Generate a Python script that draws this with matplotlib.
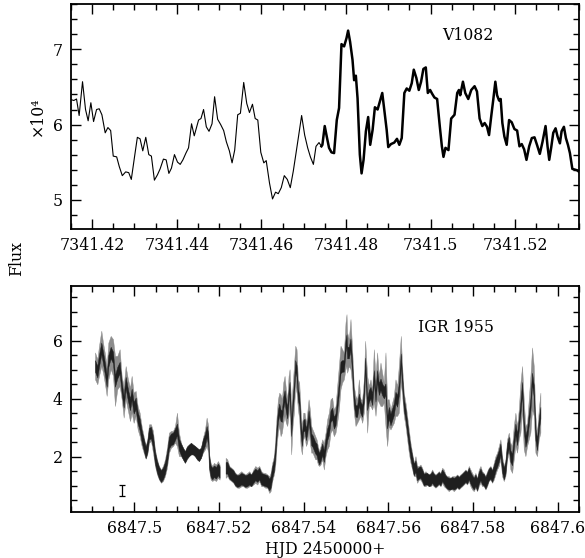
import numpy as np
import matplotlib
matplotlib.use("Agg")
import matplotlib.pyplot as plt
from matplotlib.ticker import MultipleLocator, FuncFormatter

plt.rcParams['font.family'] = ['DejaVu Serif']
plt.rcParams['font.size'] = 11.3

# --- V1082: light curve (flux in units of 1e4), thin part then thick part ---
v_t_thin = [7341.41511, 7341.41566, 7341.41630, 7341.41692, 7341.41772, 7341.41843,
            7341.41905, 7341.41969, 7341.42033, 7341.42104, 7341.42166, 7341.42230,
            7341.42308, 7341.42372, 7341.42437, 7341.42498, 7341.42579, 7341.42641,
            7341.42712, 7341.42792, 7341.42864, 7341.42925, 7341.42996, 7341.43068,
            7341.43132, 7341.43196, 7341.43267, 7341.43338, 7341.43400, 7341.43471,
            7341.43542, 7341.43606, 7341.43684, 7341.43749, 7341.43813, 7341.43874,
            7341.43945, 7341.44017, 7341.44081, 7341.44145, 7341.44216, 7341.44278,
            7341.44349, 7341.44413, 7341.44515, 7341.44572, 7341.44633, 7341.44698,
            7341.44762, 7341.44833, 7341.44894, 7341.44966, 7341.45037, 7341.45108,
            7341.45172, 7341.45243, 7341.45307, 7341.45369, 7341.45440, 7341.45504,
            7341.45582, 7341.45654, 7341.45718, 7341.45789, 7341.45853, 7341.45915,
            7341.45986, 7341.46057, 7341.46114, 7341.46192, 7341.46263, 7341.46335,
            7341.46399, 7341.46470, 7341.46541, 7341.46612, 7341.46683, 7341.46754,
            7341.46816, 7341.46880, 7341.46951, 7341.47023, 7341.47094, 7341.47158,
            7341.47229, 7341.47291, 7341.47362, 7341.47419]
v_f_thin = [6.33, 6.32, 6.34, 6.12, 6.57, 6.20, 6.05, 6.29, 6.04, 6.20, 6.21, 6.13,
            5.89, 5.96, 5.92, 5.58, 5.57, 5.44, 5.32, 5.37, 5.36, 5.27, 5.55, 5.83,
            5.81, 5.65, 5.83, 5.60, 5.58, 5.26, 5.33, 5.41, 5.54, 5.53, 5.35, 5.42,
            5.60, 5.50, 5.47, 5.53, 5.62, 5.69, 6.01, 5.85, 6.06, 6.08, 6.20, 5.97,
            5.91, 6.01, 6.37, 6.07, 6.00, 5.92, 5.77, 5.65, 5.49, 5.66, 6.13, 6.15,
            6.56, 6.28, 6.16, 6.27, 6.08, 6.06, 5.63, 5.49, 5.52, 5.22, 5.01, 5.10,
            5.08, 5.16, 5.32, 5.27, 5.16, 5.38, 5.61, 5.85, 6.12, 5.86, 5.69, 5.57,
            5.47, 5.71, 5.76, 5.71]

v_t_thick = [7341.47419, 7341.47442, 7341.47497, 7341.47545, 7341.47599, 7341.47656,
             7341.47718, 7341.47782, 7341.47836, 7341.47893, 7341.47955, 7341.48012,
             7341.48050, 7341.48097, 7341.48154, 7341.48192, 7341.48233, 7341.48273,
             7341.48327, 7341.48368, 7341.48415, 7341.48470, 7341.48524, 7341.48572,
             7341.48629, 7341.48683, 7341.48747, 7341.48802, 7341.48857, 7341.48904,
             7341.48961, 7341.48999, 7341.49063, 7341.49141, 7341.49205, 7341.49260,
             7341.49317, 7341.49379, 7341.49435, 7341.49497, 7341.49554, 7341.49602,
             7341.49663, 7341.49720, 7341.49775, 7341.49829, 7341.49886, 7341.49934,
             7341.49988, 7341.50036, 7341.50090, 7341.50154, 7341.50218, 7341.50266,
             7341.50304, 7341.50351, 7341.50422, 7341.50486, 7341.50565, 7341.50629,
             7341.50669, 7341.50700, 7341.50764, 7341.50819, 7341.50890, 7341.50961,
             7341.51039, 7341.51096, 7341.51158, 7341.51222, 7341.51277, 7341.51333,
             7341.51381, 7341.51435, 7341.51483, 7341.51530, 7341.51571, 7341.51618,
             7341.51656, 7341.51696, 7341.51744, 7341.51798, 7341.51855, 7341.51917,
             7341.51981, 7341.52045, 7341.52100, 7341.52154, 7341.52211, 7341.52266,
             7341.52330, 7341.52392, 7341.52456, 7341.52520, 7341.52581, 7341.52645,
             7341.52717, 7341.52764, 7341.52804, 7341.52852, 7341.52899, 7341.52954,
             7341.53001, 7341.53056, 7341.53096, 7341.53151, 7341.53198, 7341.53246,
             7341.53293, 7341.53350, 7341.53412, 7341.53469, 7341.53530]
v_f_thick = [5.71, 5.73, 5.98, 5.84, 5.69, 5.63, 5.62, 6.06, 6.22, 7.07, 7.04, 7.15,
             7.25, 7.10, 6.86, 6.59, 6.65, 6.35, 5.60, 5.35, 5.53, 5.91, 6.10, 5.73,
             5.93, 6.23, 6.20, 6.31, 6.42, 6.20, 5.93, 5.70, 5.74, 5.76, 5.81, 5.73,
             5.82, 6.42, 6.48, 6.45, 6.55, 6.73, 6.62, 6.46, 6.57, 6.74, 6.76, 6.42,
             6.46, 6.41, 6.36, 6.34, 5.97, 5.71, 5.57, 5.69, 5.66, 6.08, 6.13, 6.42,
             6.46, 6.39, 6.57, 6.42, 6.34, 6.46, 6.51, 6.44, 6.08, 5.98, 6.02, 5.97,
             5.86, 6.12, 6.34, 6.57, 6.39, 6.32, 6.34, 6.02, 5.84, 5.73, 6.06, 6.03,
             5.94, 5.92, 5.71, 5.74, 5.67, 5.53, 5.71, 5.82, 5.83, 5.72, 5.61, 5.77,
             5.98, 5.71, 5.53, 5.70, 5.89, 5.95, 5.84, 5.75, 5.91, 5.97, 5.82, 5.73,
             5.62, 5.41, 5.40, 5.39, 5.36]

# --- IGR 1955: dense photometry, lower/upper envelope of the point cloud ---
igr_t = [6847.49079, 6847.49134, 6847.49173, 6847.49228, 6847.49268, 6847.49315,
         6847.49354, 6847.49394, 6847.49449, 6847.49504, 6847.49551, 6847.49606,
         6847.49662, 6847.49709, 6847.49756, 6847.49803, 6847.49858, 6847.49906,
         6847.49945, 6847.49992, 6847.50040, 6847.50087, 6847.50134, 6847.50181,
         6847.50229, 6847.50276, 6847.50315, 6847.50355, 6847.50402, 6847.50449,
         6847.50496, 6847.50544, 6847.50591, 6847.50638, 6847.50685, 6847.50733,
         6847.50780, 6847.50827, 6847.50874, 6847.50922, 6847.50969, 6847.51016,
         6847.51063, 6847.51111, 6847.51158, 6847.51205, 6847.51252, 6847.51300,
         6847.51347, 6847.51394, 6847.51441, 6847.51489, 6847.51536, 6847.51583,
         6847.51630, 6847.51678, 6847.51717, 6847.51756,
         6847.51772, 6847.51812, 6847.51851, 6847.51890, 6847.51938, 6847.51985,
         6847.52024, 6847.52095, 6847.52166, 6847.52205, 6847.52253, 6847.52300,
         6847.52347, 6847.52394, 6847.52442, 6847.52489, 6847.52536, 6847.52583,
         6847.52631, 6847.52678, 6847.52725, 6847.52772, 6847.52820, 6847.52867,
         6847.52914, 6847.52961, 6847.53009, 6847.53056, 6847.53103, 6847.53150,
         6847.53198, 6847.53229, 6847.53268, 6847.53308, 6847.53339, 6847.53371,
         6847.53402, 6847.53434, 6847.53465, 6847.53497, 6847.53528, 6847.53560,
         6847.53591, 6847.53623, 6847.53654, 6847.53678, 6847.53717, 6847.53749,
         6847.53780, 6847.53812, 6847.53843, 6847.53875, 6847.53906, 6847.53938,
         6847.53969, 6847.54001, 6847.54032, 6847.54064, 6847.54095, 6847.54127,
         6847.54158, 6847.54190, 6847.54221, 6847.54253, 6847.54284, 6847.54316,
         6847.54347, 6847.54379, 6847.54410, 6847.54450,
         6847.54488, 6847.54528, 6847.54567, 6847.54606, 6847.54646, 6847.54685,
         6847.54724, 6847.54764, 6847.54803, 6847.54843, 6847.54882, 6847.54921,
         6847.54961, 6847.55000, 6847.55024, 6847.55039, 6847.55079, 6847.55118,
         6847.55158, 6847.55197, 6847.55236, 6847.55276, 6847.55315, 6847.55354,
         6847.55394, 6847.55433, 6847.55465, 6847.55512, 6847.55551, 6847.55591,
         6847.55630, 6847.55669, 6847.55709, 6847.55748, 6847.55788, 6847.55827,
         6847.55866, 6847.55906, 6847.55945, 6847.55984, 6847.56024, 6847.56063,
         6847.56103, 6847.56142, 6847.56181, 6847.56221, 6847.56260, 6847.56307,
         6847.56339, 6847.56378, 6847.56418, 6847.56457, 6847.56496, 6847.56536,
         6847.56575, 6847.56614, 6847.56654, 6847.56693, 6847.56733, 6847.56772,
         6847.56811, 6847.56851, 6847.56890, 6847.56929, 6847.56969, 6847.57008,
         6847.57048, 6847.57087,
         6847.57126, 6847.57166, 6847.57205, 6847.57245, 6847.57284, 6847.57323,
         6847.57363, 6847.57402, 6847.57441, 6847.57481, 6847.57520, 6847.57560,
         6847.57599, 6847.57638, 6847.57678, 6847.57717, 6847.57756, 6847.57796,
         6847.57835, 6847.57875, 6847.57914, 6847.57953, 6847.57993, 6847.58032,
         6847.58071, 6847.58111, 6847.58150, 6847.58190, 6847.58229, 6847.58268,
         6847.58308, 6847.58347, 6847.58386, 6847.58426, 6847.58465, 6847.58505,
         6847.58544, 6847.58583, 6847.58623, 6847.58662, 6847.58701, 6847.58741,
         6847.58780, 6847.58820, 6847.58859, 6847.58898, 6847.58938, 6847.58977,
         6847.59016, 6847.59056, 6847.59095, 6847.59135, 6847.59174, 6847.59213,
         6847.59253, 6847.59292, 6847.59331, 6847.59371, 6847.59410, 6847.59450,
         6847.59489, 6847.59528, 6847.59568, 6847.59607]
igr_lo = [4.65, 4.48, 4.77, 5.11, 4.88, 4.48, 4.08, 4.65, 5.00, 4.77, 3.73, 4.31,
          4.42, 3.96, 3.33, 3.96, 3.56, 3.21, 3.50, 3.15, 3.39, 2.92, 2.69, 2.35,
          2.12, 1.91, 2.06, 2.46, 2.52, 2.12, 1.66, 1.37, 1.19, 1.08, 1.14, 1.31,
          1.60, 2.12, 2.29, 2.35, 2.46, 2.35, 2.00, 2.00, 1.89, 1.77, 1.89, 2.00,
          2.06, 2.06, 2.00, 1.89, 1.83, 1.94, 2.12, 2.23, 2.35, 2.12,
          1.54, 1.19, 1.14, 1.19, 1.14, 1.25, 1.19, np.nan, 1.25, 1.31, 1.19, 1.14,
          1.08, 0.96, 0.91, 0.91, 0.96, 0.96, 0.91, 0.91, 0.96, 0.96, 1.02, 1.08,
          1.02, 1.14, 0.96, 0.96, 0.91, 0.91, 0.73, 0.79, 1.14, 1.37, 1.66, 2.35,
          2.81, 3.04, 2.69, 2.81, 3.15, 3.39, 3.15, 3.04, 3.39, 3.73, 2.06, 3.04,
          3.50, 4.42, 4.19, 3.61, 3.27, 2.35, 2.06, 2.58, 2.69, 2.35, 2.46, 2.81,
          2.46, 2.12, 2.12, 2.00, 1.89, 1.89, 1.71, 1.66, 1.71, 1.89,
          1.54, 2.00, 2.23, 2.35, 2.81, 2.92, 2.69, 2.81, 3.15, 3.61, 4.31, 4.54,
          4.65, 5.00, 5.11, 4.88, 5.11, 5.00, 4.42, 3.50, 3.04, 3.15, 3.27, 3.39,
          3.15, 3.50, 4.42, 2.81, 3.73, 3.73, 3.61, 3.85, 3.39, 3.96, 3.85, 3.73,
          3.73, 3.85, 3.04, 2.35, 3.04, 2.92, 3.04, 3.15, 3.39, 3.39, 3.50, 4.54,
          4.08, 3.39, 3.04, 2.58, 2.12, 1.77, 1.54, 1.31, 1.31, 1.08, 1.19, 1.19,
          1.08, 0.96, 0.96, 1.02, 0.96, 0.96, 1.02, 0.96,
          0.91, 0.96, 1.02, 0.96, 1.08, 0.96, 0.91, 0.85, 0.79, 0.85, 0.85, 0.79,
          0.85, 0.91, 0.85, 0.91, 0.96, 1.02, 1.08, 1.02, 1.14, 0.96, 0.85, 0.79,
          0.91, 0.79, 0.96, 1.08, 0.96, 0.96, 0.85, 0.96, 1.14, 1.19, 1.08, 1.19,
          1.37, 1.54, 1.66, 1.89, 1.31, 1.14, 1.31, 1.89, 2.12, 1.54, 1.42, 1.89,
          2.35, 2.12, 2.58, 2.81, 3.61, 2.23, 2.00, 2.35, 2.58, 2.81, 3.61, 3.39,
          2.12, 2.00, 2.58, 2.81]
igr_hi = [5.58, 5.35, 5.81, 6.33, 5.92, 5.52, 5.11, 5.92, 6.15, 6.04, 5.46, 5.46,
          5.69, 4.77, 4.42, 5.11, 4.65, 4.36, 4.77, 4.19, 4.25, 3.73, 3.50, 3.04,
          2.69, 2.35, 2.58, 3.10, 3.10, 2.87, 2.23, 1.89, 1.66, 1.54, 1.66, 1.89,
          2.29, 2.81, 2.87, 2.87, 3.04, 3.50, 2.81, 2.46, 2.29, 2.17, 2.35, 2.40,
          2.46, 2.40, 2.35, 2.29, 2.23, 2.29, 2.64, 2.92, 3.33, 3.04,
          2.12, 1.77, 1.66, 1.77, 1.71, 1.83, 1.71, np.nan, 1.94, 1.89, 1.66, 1.60,
          1.54, 1.42, 1.37, 1.42, 1.48, 1.42, 1.37, 1.42, 1.48, 1.37, 1.54, 1.66,
          1.60, 1.66, 1.48, 1.42, 1.42, 1.37, 1.31, 1.42, 1.77, 2.00, 2.58, 3.39,
          3.96, 4.19, 4.13, 3.96, 4.54, 4.77, 4.31, 3.96, 4.77, 5.00, 3.73, 4.42,
          5.11, 5.81, 5.69, 4.65, 4.54, 3.61, 3.04, 3.50, 3.50, 3.15, 3.50, 3.96,
          3.61, 3.04, 2.92, 2.81, 2.69, 2.58, 2.35, 2.17, 2.35, 2.58,
          2.46, 2.81, 3.27, 3.50, 3.96, 4.02, 3.61, 3.73, 4.42, 5.11, 5.81, 5.69,
          5.58, 6.61, 6.90, 6.27, 6.04, 6.73, 5.69, 4.42, 4.08, 3.96, 4.65, 3.96,
          3.96, 4.65, 5.98, 4.77, 4.42, 4.65, 4.31, 5.69, 4.77, 5.58, 4.77, 5.23,
          4.88, 4.54, 5.58, 3.96, 3.96, 3.61, 3.85, 4.08, 4.65, 4.42, 5.11, 6.15,
          5.11, 4.19, 3.85, 3.39, 2.92, 2.46, 2.12, 1.77, 2.00, 1.66, 1.66, 1.71,
          1.60, 1.42, 1.48, 1.42, 1.37, 1.42, 1.54, 1.42,
          1.37, 1.42, 1.48, 1.42, 1.60, 1.54, 1.37, 1.31, 1.31, 1.25, 1.31, 1.31,
          1.31, 1.37, 1.31, 1.37, 1.42, 1.48, 1.54, 1.48, 1.66, 1.54, 1.42, 1.31,
          1.42, 1.25, 1.54, 1.66, 1.48, 1.42, 1.31, 1.48, 1.60, 1.66, 1.54, 1.77,
          2.00, 2.12, 2.35, 2.58, 2.00, 1.66, 1.89, 2.58, 2.81, 2.46, 2.35, 3.04,
          3.50, 3.04, 3.61, 4.54, 5.11, 3.96, 3.04, 3.15, 3.96, 4.77, 5.75, 5.11,
          3.39, 2.81, 3.61, 4.19]

# typical error bar shown in the lower panel
err_t = 6847.4971
err_y = 0.835
err_dy = 0.185


def hjd_fmt(v, pos):
    return f"{v:.2f}".rstrip('0').rstrip('.')


def style_axes(ax, xmin, xmaj, ymin, ymaj):
    ax.xaxis.set_major_locator(MultipleLocator(xmaj))
    ax.xaxis.set_minor_locator(MultipleLocator(xmin))
    ax.yaxis.set_major_locator(MultipleLocator(ymaj))
    ax.yaxis.set_minor_locator(MultipleLocator(ymin))
    ax.xaxis.set_major_formatter(FuncFormatter(hjd_fmt))
    ax.tick_params(which='both', direction='in', top=True, right=True, width=1.0)
    ax.tick_params(which='major', length=7, pad=6)
    ax.tick_params(which='minor', length=4)
    for s in ax.spines.values():
        s.set_linewidth(1.3)


fig = plt.figure(figsize=(5.85, 5.58), dpi=100)
ax1 = fig.add_axes([0.1214, 0.5896, 0.8678, 0.4027])
ax2 = fig.add_axes([0.1214, 0.0830, 0.8678, 0.4050])

# top panel
ax1.plot(v_t_thin, v_f_thin, color='black', lw=0.8)
ax1.plot(v_t_thick, v_f_thick, color='black', lw=1.8, solid_joinstyle='round')
ax1.set_xlim(7341.415, 7341.535)
ax1.set_ylim(4.61, 7.6)
style_axes(ax1, 0.005, 0.02, 0.2, 1)
ax1.text(0.782, 0.863, 'V1082', transform=ax1.transAxes, ha='center', va='center')
ax1.set_ylabel('×10⁴', labelpad=5)

# bottom panel: the point cloud (grey envelope) with its dense core (dark)
t = np.array(igr_t)
lo = np.array(igr_lo)
hi = np.array(igr_hi)
mid = 0.5 * (lo + hi)
half = np.minimum(0.5 * (hi - lo), 0.2)
ax2.fill_between(t, lo, hi, color='0.55', lw=0.3)
ax2.fill_between(t, mid - half, mid + half, color='0.12', lw=0.3)
ax2.errorbar([err_t], [err_y], yerr=[err_dy], fmt='none', ecolor='black',
             elinewidth=0.9, capsize=2.5, capthick=0.9)
ax2.set_xlim(6847.485, 6847.605)
ax2.set_ylim(0.1, 7.9)
style_axes(ax2, 0.005, 0.02, 0.5, 2)
ax2.text(0.758, 0.817, 'IGR 1955', transform=ax2.transAxes, ha='center', va='center')
ax2.set_xlabel('HJD 2450000+', labelpad=3)

fig.text(0.029, 0.537, 'Flux', rotation=90, ha='center', va='center')

fig.savefig('out.png', dpi=100)
